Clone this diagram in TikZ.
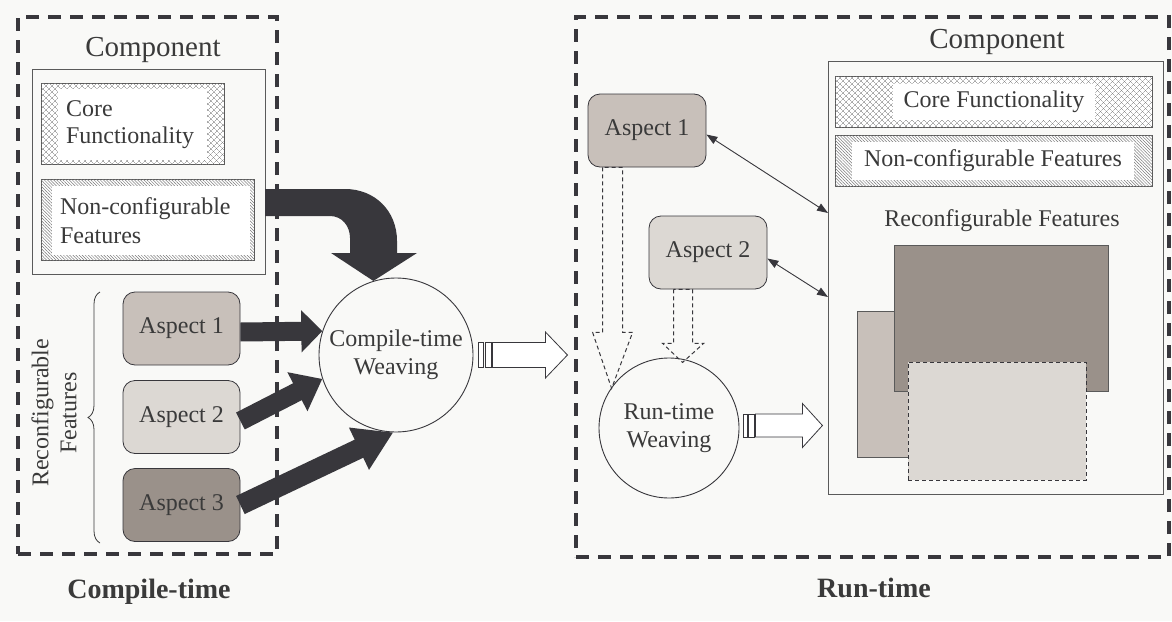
\documentclass[tikz,border=0pt]{standalone}
\usepackage{fontspec}
\setmainfont{Liberation Serif}
\usetikzlibrary{arrows.meta,patterns.meta,decorations.pathreplacing}
\definecolor{bg}{HTML}{F9F9F7}
\definecolor{dk}{HTML}{38373C}
\definecolor{txt}{HTML}{3A3A3A}
\definecolor{cA}{HTML}{C8C0BA}
\definecolor{cB}{HTML}{DCD8D3}
\definecolor{cC}{HTML}{9A918A}
\definecolor{ln}{HTML}{5A5A5A}
\definecolor{hatch}{HTML}{7A7A7A}
\newcommand\fsA{\fontsize{24pt}{28pt}\selectfont}
\newcommand\fsH{\fontsize{29pt}{33pt}\selectfont}
\newcommand\fsB{\fontsize{28pt}{32pt}\selectfont\bfseries}
\begin{document}
\begin{tikzpicture}[x=1pt,y=-1pt,
  dbox/.style={draw=dk, line width=3.5pt, dash pattern=on 13pt off 9pt, inner sep=0pt},
  cbox/.style={draw=ln, line width=0.8pt, fill=bg, inner sep=0pt},
  wbox/.style={fill=white, inner sep=0pt},
  xhatch/.style={draw=ln, line width=0.8pt, inner sep=0pt, fill=white,
     postaction={pattern={Lines[angle=45,distance=4pt,line width=0.45pt]}, pattern color=hatch},
     postaction={pattern={Lines[angle=-45,distance=4pt,line width=0.45pt]}, pattern color=hatch}},
  lhatch/.style={draw=ln, line width=0.8pt, inner sep=0pt, fill=white,
     postaction={pattern={Lines[angle=-45,distance=2.2pt,line width=0.5pt]}, pattern color=hatch}},
  asp/.style={draw=dk, line width=0.8pt, rounded corners=12pt, minimum width=117pt,
     minimum height=73pt, font=\fsA, text=txt, inner sep=0pt},
  wv/.style={circle, draw=dk, line width=0.9pt, fill=bg, font=\fsA, text=txt,
     align=center, inner sep=0pt},
  lbl/.style={font=\fsA, text=txt, inner sep=0pt},
  hd/.style={font=\fsH, text=txt, inner sep=0pt},
  bold/.style={font=\fsB, text=txt, inner sep=0pt},
  hollow/.style={draw=dk, line width=0.8pt, fill=white},
  dhollow/.style={draw=dk, line width=1pt, dash pattern=on 4pt off 3pt},
  dbl/.style={draw=dk, line width=0.9pt, {Triangle[width=8pt,length=11pt]}-{Triangle[width=8pt,length=11pt]}},
  fat/.style={draw=dk, line width=19pt}
]
\useasboundingbox (0,0) rectangle (1172,621);
\fill[bg] (0,0) rectangle (1172,621);

% ---------------- left: compile-time ----------------
\node[dbox, minimum width=259pt, minimum height=537pt] (lbox) at (147.5,285.5) {};
\node[hd] (lhead) at (153,50) {Component};
\node[cbox, minimum width=233pt, minimum height=205pt] (lcomp) at (148.5,171.5) {};
\node[xhatch, minimum width=183pt, minimum height=81pt] (lcore) at (132.5,123.5) {};
\node[wbox, minimum width=149pt, minimum height=71pt] (lcoreIn) at (132.5,124.5) {};
\node[lbl, anchor=west, align=left, font=\fontsize{24pt}{27pt}\selectfont] (lcoreT) at ([xshift=8pt]lcoreIn.west) {Core\\Functionality};
\node[lhatch, minimum width=213pt, minimum height=81pt] (lncf) at (147.5,219.5) {};
\node[wbox, minimum width=198pt, minimum height=69pt] (lncfIn) at (151,220.5) {};
\node[lbl, anchor=west, align=left, font=\fontsize{24pt}{29pt}\selectfont] (lncfT) at ([xshift=8pt]lncfIn.west) {Non-configurable\\Features};

\node[asp, fill=cA] (a1) at (181.5,328.5) {Aspect 1};
\node[asp, fill=cB] (a2) at (181.5,417) {Aspect 2};
\node[asp, fill=cC] (a3) at (181.5,505) {Aspect 3};

\coordinate (brB) at (100,543);
\coordinate (brT) at (100,292);
\draw[decorate, decoration={brace, amplitude=12pt}, draw=txt, line width=0.8pt] (brB) -- (brT);
\node[lbl, rotate=90, align=center, font=\fontsize{24pt}{28pt}\selectfont] (rfT) at (54,413) {Reconfigurable\\Features};

\node[wv, minimum size=154pt] (cw) at (396,355) {Compile-time\\Weaving};

% fat arrows into compile-time weaving
\draw[fat, -{Triangle[width=41pt,length=21pt]}] (a1.east |- 0,332) -- (cw.162.6);
\draw[fat, -{Triangle[width=42pt,length=28pt]}] ([yshift=-4pt]a2.east) -- (cw.198);
\draw[fat, line width=20pt, -{Triangle[width=44pt,length=38pt]}] (a3.east) -- (cw.268);
% bent arrow from non-configurable features
\fill[dk] (265,189) -- (345,189) .. controls (375,189) and (397,211) .. (397,241)
  -- (397,253) -- (417,253) -- (cw.107) -- (331,253) -- (350,253) -- (350,238)
  .. controls (350,226) and (342,216) .. (330,216) -- (265,216) -- cycle;

% hollow arrow out of compile-time weaving
\begin{scope}[shift={(cw.east)}]
  \draw[hollow] (5,-12.5) rectangle (10,12.5);
  \draw[hollow] (12,-12.5) rectangle (18,12.5);
  \draw[hollow] (19,-12.5) -- (72,-12.5) -- (72,-23) -- (94,0) -- (72,23) -- (72,12.5) -- (19,12.5) -- cycle;
\end{scope}

\node[bold] (ctl) at (149,592) {Compile-time};

% ---------------- right: run-time ----------------
\node[dbox, minimum width=593pt, minimum height=540pt] (rbox) at (872.5,287) {};
\node[hd] (rhead) at (997,42) {Component};
\node[cbox, minimum width=335pt, minimum height=433pt] (rcomp) at (995.5,277.5) {};
\node[xhatch, minimum width=317pt, minimum height=51pt] (rcore) at (993.5,101.5) {};
\node[wbox, minimum width=202pt, minimum height=36pt, font=\fsA, text=txt] (rcoreIn) at (994,102) {Core Functionality};
\node[lhatch, minimum width=317pt, minimum height=51pt] (rncf) at (993.5,160.5) {};
\node[wbox, minimum width=282pt, minimum height=38pt, font=\fsA, text=txt] (rncfIn) at (993,161) {Non-configurable Features};
\node[lbl] (rrf) at (1002,221) {Reconfigurable Features};

\node[draw=ln, line width=0.8pt, fill=cA, minimum width=143pt, minimum height=146pt, inner sep=0pt] (rm) at (928.5,384) {};
\node[draw=ln, line width=0.8pt, fill=cC, minimum width=214pt, minimum height=146pt, inner sep=0pt] (rd) at (1001,318) {};
\node[draw=dk, line width=1pt, dash pattern=on 4pt off 3pt, fill=cB, minimum width=178pt, minimum height=118pt, inner sep=0pt] (rl) at (997,421) {};

\node[asp, fill=cA, minimum width=118pt] (ra1) at (647,130.5) {Aspect 1};
\node[asp, fill=cB, minimum width=118pt] (ra2) at (708,252.5) {Aspect 2};

\node[wv, minimum size=140pt] (rw) at (669,428) {Run-time\\Weaving};

\coordinate (e1) at (828,213);
\coordinate (e2) at (828,297);
\draw[dbl] ([yshift=-4pt]ra1.east) -- (e1);
\draw[dbl] ([yshift=-6pt]ra2.east) -- (e2);

% dashed hollow arrows down to run-time weaving
\begin{scope}[shift={([xshift=25pt]ra1.south west)}]
  \draw[dhollow] (-10,0) -- (-10,165) -- (-20,165) -- (-1,221) -- (20,165) -- (10,165) -- (10,0) -- cycle;
\end{scope}
\begin{scope}[shift={([xshift=34.5pt]ra2.south west)}]
  \draw[dhollow] (-9.5,0) -- (-9.5,54) -- (-20.5,54) -- (-0.5,73) -- (20.5,54) -- (9.5,54) -- (9.5,0) -- cycle;
\end{scope}

% hollow arrow out of run-time weaving
\begin{scope}[shift={([yshift=2.5pt]rw.east)}]
  \draw[hollow] (4,-11.5) rectangle (8,11.5);
  \draw[hollow] (9,-11.5) rectangle (15,11.5);
  \draw[hollow] (16,-11.5) -- (63,-11.5) -- (63,-22) -- (83,0) -- (63,22) -- (63,11.5) -- (16,11.5) -- cycle;
\end{scope}

\node[bold] (rtl) at (874,588) {Run-time};
\end{tikzpicture}
\end{document}
